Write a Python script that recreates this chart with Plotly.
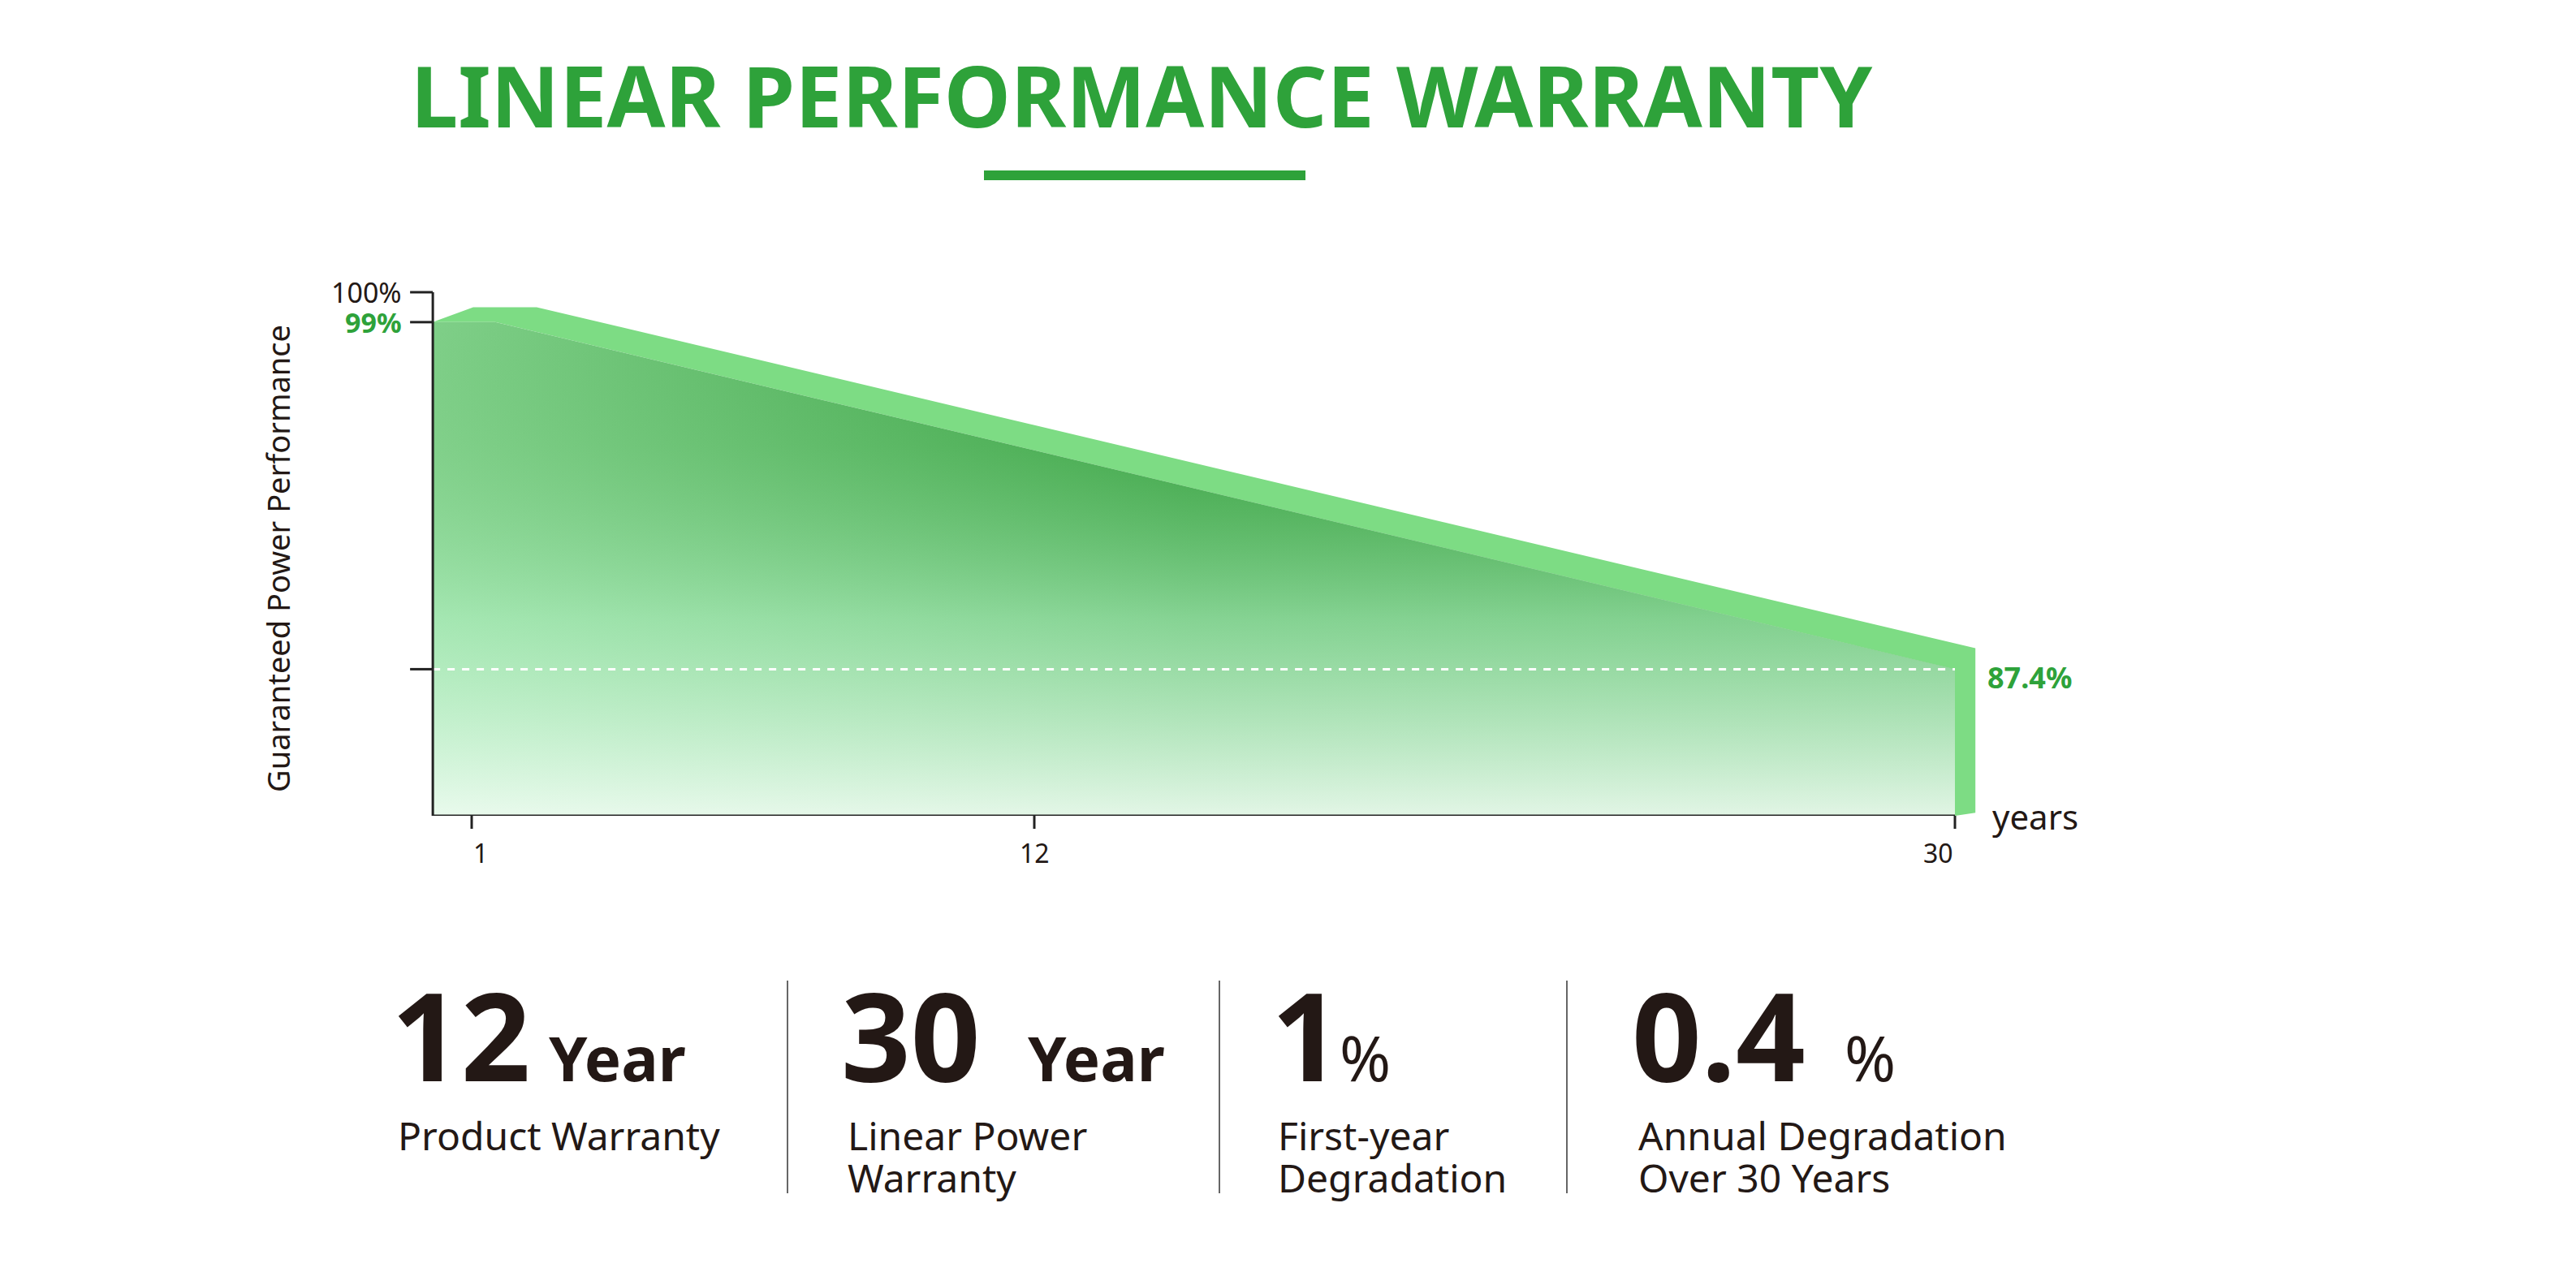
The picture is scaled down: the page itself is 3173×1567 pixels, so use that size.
import plotly.graph_objects as go

W, H = 3173, 1567
GREEN = "#2ea23a"
DARK = "#231815"

# data
years_main = [0.24, 1.46, 30]
perf_main = [99, 99, 87.4]
band_years = [0.24, 1.03, 2.27, 30.4, 30.4, 30, 30, 1.46, 0.24]
band_perf = [99, 99.5, 99.5, 88.1, 82.6, 82.5, 87.4, 99, 99]
x_ticks = [1, 12, 30]
y_ticks = [100, 99, 87.4]
y_tick_text = ["100%", "99%", ""]
end_value = 87.4
stats = [
    ("12", "Year", ["Product Warranty"]),
    ("30", "Year", ["Linear Power", "Warranty"]),
    ("1", "%", ["First-year", "Degradation"]),
    ("0.4", "%", ["Annual Degradation", "Over 30 Years"]),
]

X0, X1, Y0, YTOP = 0.24, 30, 82.5, 100
XR = [0, 32]
PX_L, PX_R, PY_B, PY_T = 510, 2526, 997, 352

def px(x): return x / W
def py(y): return 1 - y / H
def dx(x): return px(PX_L + (x - XR[0]) / (XR[1] - XR[0]) * (PX_R - PX_L))
def dy(y): return py(PY_B - (y - Y0) / (YTOP - Y0) * (PY_B - PY_T))

fig = go.Figure()
fig.add_trace(go.Scatter(x=band_years, y=band_perf, mode="lines", fill="toself",
                         fillcolor="#7ddc84", line=dict(width=0), hoverinfo="skip"))
mx = [X0] + years_main + [X1, X0]
my = [Y0] + perf_main + [Y0, Y0]
fig.add_trace(go.Scatter(x=mx, y=my, mode="lines", fill="toself", line=dict(width=0),
                         fillgradient=dict(type="horizontal",
                                           colorscale=[[0, "#7fcf88"], [0.5, "#3aa343"], [1, "#2e9a36"]]),
                         hoverinfo="skip"))
fig.add_trace(go.Scatter(x=mx, y=my, mode="lines", fill="toself", line=dict(width=0),
                         fillgradient=dict(type="vertical",
                                           colorscale=[[0, "rgba(245,255,248,0.9)"], [0.4, "rgba(195,250,212,0.55)"],
                                                       [0.75, "rgba(150,220,160,0.1)"], [1, "rgba(80,170,90,0.0)"]]),
                         hoverinfo="skip"))
fig.add_trace(go.Scatter(x=[X0, X1], y=[end_value, end_value], mode="lines",
                         line=dict(color="white", width=3, dash="dash"), hoverinfo="skip"))

shapes = []
AX = dict(color="#222", width=3)
shapes.append(dict(type="line", x0=X0, x1=X0, y0=Y0, y1=YTOP, xref="x", yref="y", line=AX))
shapes.append(dict(type="line", x0=X0, x1=X1, y0=Y0, y1=Y0, xref="x", yref="y", line=AX))
for t in x_ticks:
    shapes.append(dict(type="line", x0=dx(t), x1=dx(t), y0=dy(Y0), y1=py(PY_B + 16),
                       xref="paper", yref="paper", line=AX))
for t in y_ticks:
    shapes.append(dict(type="line", x0=dx(X0) - px(28), x1=dx(X0), y0=dy(t), y1=dy(t),
                       xref="paper", yref="paper", line=AX))
shapes.append(dict(type="rect", x0=px(1204), x1=px(1600), y0=py(214), y1=py(202), xref="paper", yref="paper",
                   fillcolor=GREEN, line=dict(width=0)))
for xd in [962, 1494, 1922]:
    shapes.append(dict(type="line", x0=px(xd), x1=px(xd), y0=py(1200), y1=py(1462), xref="paper", yref="paper",
                       line=dict(color="#666", width=2)))

ann = []
ann.append(dict(x=px(1398), y=py(108), text="LINEAR PERFORMANCE WARRANTY", showarrow=False,
                xref="paper", yref="paper", xanchor="center", yanchor="middle",
                font=dict(family="Noto Sans", size=104, color=GREEN, weight="bold")))
for t, s in zip(y_ticks, y_tick_text):
    if s:
        ann.append(dict(x=dx(X0) - px(36), y=dy(t), xref="paper", yref="paper", text=s, showarrow=False,
                        xanchor="right", yanchor="middle",
                        font=dict(family="Noto Sans", size=34, color=GREEN if s == "99%" else DARK,
                                  weight="bold" if s == "99%" else "normal")))
ann.append(dict(x=dx(30.6), y=dy(end_value) - py(0) + py(10), xref="paper", yref="paper", text="87.4%",
                showarrow=False, xanchor="left", yanchor="middle",
                font=dict(family="Noto Sans", size=36, color=GREEN, weight="bold")))
for t in x_ticks:
    ann.append(dict(x=dx(t), y=py(PY_B + 22), xref="paper", yref="paper", text=str(t), showarrow=False,
                    yanchor="top", font=dict(family="Noto Sans", size=32, color=DARK)))
ann.append(dict(x=dx(30.7), y=py(PY_B), xref="paper", yref="paper", text="years", showarrow=False,
                xanchor="left", yanchor="middle", font=dict(family="Noto Sans", size=42, color=DARK)))
ann.append(dict(x=px(306), y=py(680), xref="paper", yref="paper", text="Guaranteed Power Performance",
                showarrow=False, textangle=-90, font=dict(family="Noto Sans", size=38, color=DARK)))

num_x = [472, 1026, 1556, 2000]
unit_x = [666, 1256, 1640, 2262]
for (num, unit, sub), x, ux in zip(stats, num_x, unit_x):
    ann.append(dict(x=px(x), y=py(1370), xref="paper", yref="paper", text=num, showarrow=False,
                    xanchor="left", yanchor="bottom",
                    font=dict(family="Noto Sans", size=150, color=DARK, weight="bold")))
    ann.append(dict(x=px(ux), y=py(1348), xref="paper", yref="paper", text=unit, showarrow=False,
                    xanchor="left", yanchor="bottom",
                    font=dict(family="Noto Sans", size=76, color=DARK, weight="bold" if unit == "Year" else "normal")))
    for i, line in enumerate(sub):
        ann.append(dict(x=px(x + 8), y=py(1390 + 52 * i), xref="paper", yref="paper", text=line, showarrow=False,
                        xanchor="left", yanchor="middle",
                        font=dict(family="Noto Sans", size=48, color=DARK)))

fig.update_layout(
    width=W, height=H, margin=dict(l=0, r=0, t=0, b=0), showlegend=False,
    paper_bgcolor="white", plot_bgcolor="white",
    xaxis=dict(range=XR, domain=[px(PX_L), px(PX_R)], visible=False),
    yaxis=dict(range=[Y0, YTOP], domain=[py(PY_B), py(PY_T)], visible=False),
    shapes=shapes, annotations=ann,
)
fig.write_html("out.html")
